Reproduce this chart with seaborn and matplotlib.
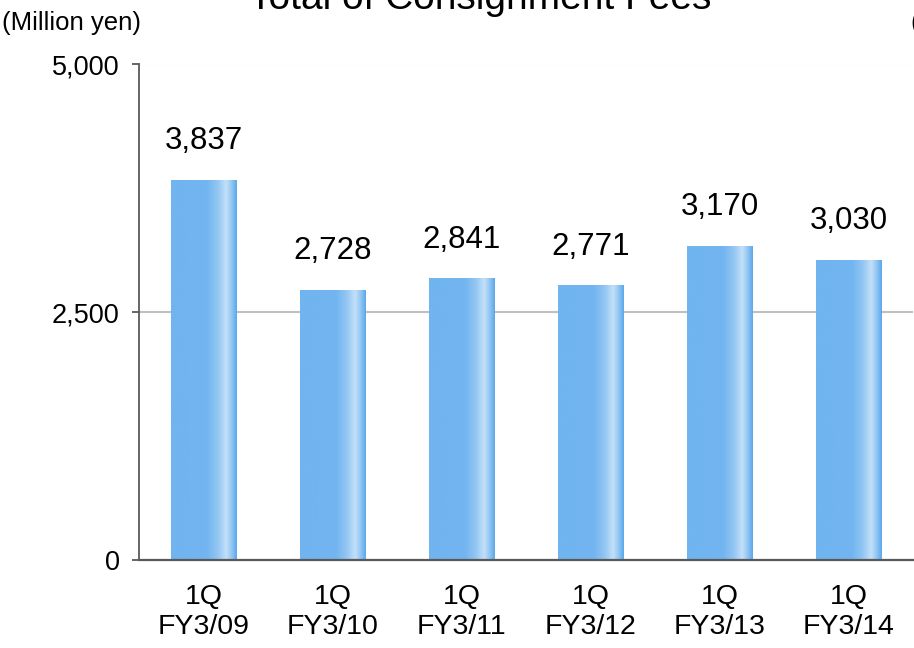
import numpy as np
import pandas as pd
import matplotlib
matplotlib.use("Agg")
import matplotlib.pyplot as plt
from matplotlib.colors import LinearSegmentedColormap
import seaborn as sns

categories = ["1Q\nFY3/09", "1Q\nFY3/10", "1Q\nFY3/11", "1Q\nFY3/12", "1Q\nFY3/13", "1Q\nFY3/14"]
values = [3837, 2728, 2841, 2771, 3170, 3030]
yticks = [0, 2500, 5000]
ytick_labels = ["0", "2,500", "5,000"]
title = "Total of Consignment Fees"
unit = "(Million yen)"

sns.set_theme(style="white")
plt.rcParams["font.family"] = ["Liberation Sans", "DejaVu Sans"]
plt.rcParams["text.color"] = "black"
plt.rcParams["xtick.labelcolor"] = "black"
plt.rcParams["ytick.labelcolor"] = "black"

df = pd.DataFrame({"cat": categories, "val": values})

fig = plt.figure(figsize=(9.14, 6.48), dpi=100)
ax = fig.add_axes([139/914, 88/648, (913-139)/914, (560-64.5)/648])

sns.barplot(data=df, x="cat", y="val", ax=ax, width=0.51, color="#70B4F0",
            saturation=1, edgecolor="none", linewidth=0, zorder=3)

# gradient overlay on each bar
cmap = LinearSegmentedColormap.from_list("barg", [
    (0.0, "#70B4F0"), (0.55, "#72B5F0"), (0.72, "#95C8F3"),
    (0.84, "#C4E0F8"), (0.93, "#8CC3F2"), (1.0, "#5AA8EC")])
grad = np.linspace(0, 1, 256).reshape(1, -1)
for p in ax.patches:
    x0, y0 = p.get_x(), p.get_y()
    w, h = p.get_width(), p.get_height()
    im = ax.imshow(grad, cmap=cmap, extent=[x0, x0 + w, y0, y0 + h],
                   aspect="auto", zorder=4, interpolation="bicubic")
    im.set_clip_path(p)

ax.set_xlim(-0.5, 5.5)
ax.set_ylim(0, 5000)

labels = [f"{v:,}" for v in values]
ax.bar_label(ax.containers[0], labels=labels, padding=17, fontsize=22.5,
             color="black", zorder=6)

ax.set_yticks(yticks)
ax.set_yticklabels(ytick_labels, fontsize=19.5)
ax.set_xticks(range(len(categories)))
ax.set_xticklabels(categories, fontsize=20.5, linespacing=1.2)
ax.tick_params(axis="x", which="major", length=0, pad=17)
ax.set_xticks(np.arange(-0.5, len(categories), 1.0), minor=True)
ax.tick_params(axis="x", which="minor", direction="in", length=8,
               width=1.3, color="#595959")
ax.tick_params(axis="y", which="major", direction="out", length=5,
               width=1.3, color="#595959", pad=9, left=True)
ax.set_xlabel("")
ax.set_ylabel("")

for yv in yticks[1:]:
    ax.axhline(yv, color="#BFBFBF", lw=1.5, zorder=1)

for s in ["top", "right"]:
    ax.spines[s].set_visible(False)
ax.spines["left"].set_color("#595959")
ax.spines["left"].set_linewidth(1.3)
ax.spines["bottom"].set_color("#595959")
ax.spines["bottom"].set_linewidth(1.6)
ax.spines["bottom"].set_zorder(7)

fig.text(2/914, 1 - 30/648, unit, fontsize=18.5, ha="left", va="baseline")
fig.text(480/914, 1 - 9/648, title, fontsize=28, ha="center", va="baseline")
fig.text(911/914, 1 - 30/648, unit, fontsize=18.5, ha="left", va="baseline")

fig.savefig("out.png", dpi=100)
